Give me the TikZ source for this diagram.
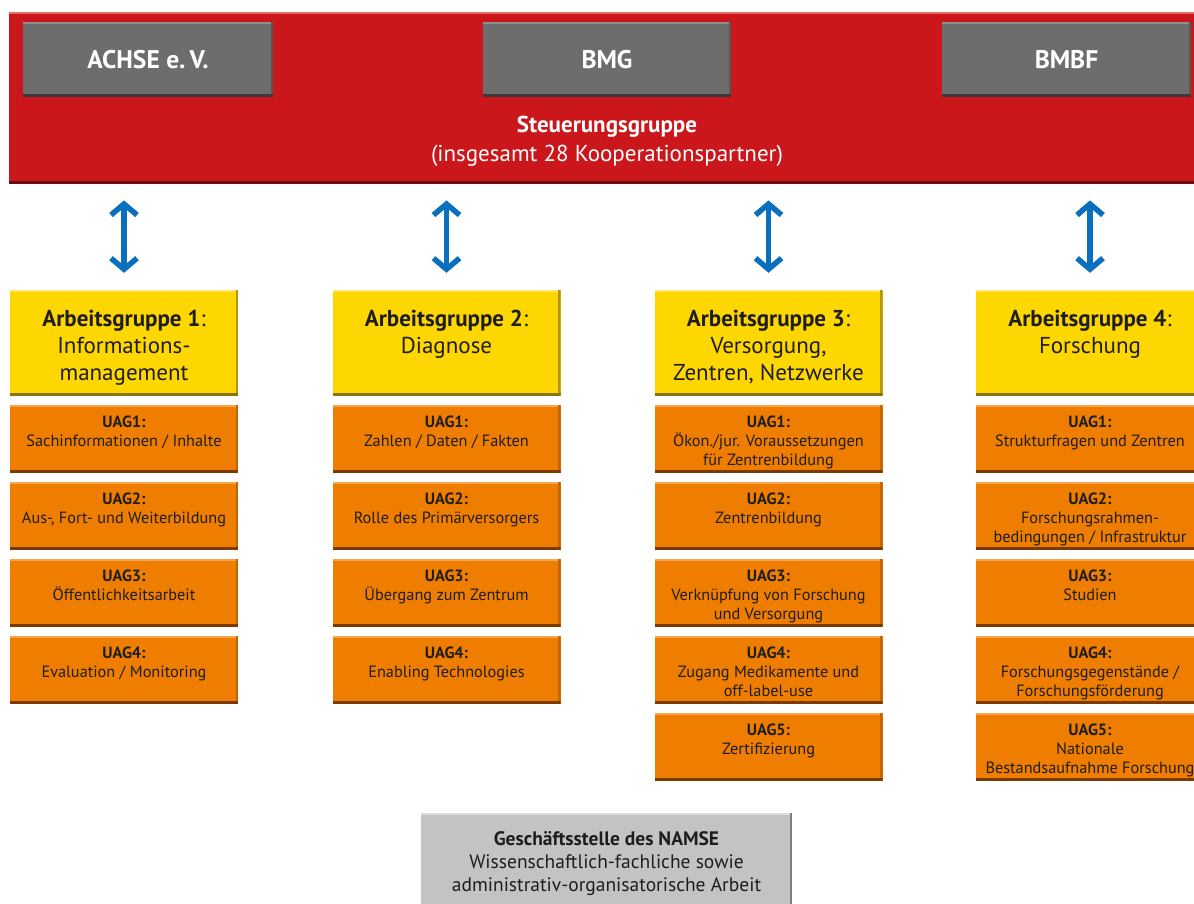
\documentclass[tikz,border=0pt]{standalone}
\usepackage{fontspec}
\setmainfont{PT Sans}
\usetikzlibrary{arrows.meta}
\definecolor{rd}{HTML}{CB171C}
\definecolor{rdtop}{HTML}{E36B6B}
\definecolor{rdbot}{HTML}{6B0B0B}
\definecolor{gr}{HTML}{6D6D6D}
\definecolor{grtop}{HTML}{8E8E8E}
\definecolor{grbot}{HTML}{3A3A3A}
\definecolor{grrt}{HTML}{555555}
\definecolor{yl}{HTML}{FFD700}
\definecolor{yltop}{HTML}{FFE566}
\definecolor{ylbot}{HTML}{8A7400}
\definecolor{ylrt}{HTML}{B39600}
\definecolor{og}{HTML}{EF7D00}
\definecolor{ogtop}{HTML}{F6A550}
\definecolor{ogbot}{HTML}{7A3A00}
\definecolor{ogrt}{HTML}{C46500}
\definecolor{lg}{HTML}{C3C3C3}
\definecolor{lgtop}{HTML}{DCDCDC}
\definecolor{lgrt}{HTML}{7C7C7C}
\definecolor{bl}{HTML}{0A70BD}
\definecolor{txt}{HTML}{1E1E1E}
\tikzset{
  bev/.style n args={3}{path picture={
    \fill[#1] (path picture bounding box.north west) rectangle ([yshift=-2pt]path picture bounding box.north east);
    \fill[#3] (path picture bounding box.north east) rectangle ([xshift=-2.5pt]path picture bounding box.south east);
    \fill[#2] (path picture bounding box.south west) rectangle ([yshift=3pt]path picture bounding box.south east);
  }},
  band/.style={inner sep=0pt, fill=rd, anchor=north west, minimum width=1195pt, minimum height=172pt, bev={rdtop}{rdbot}{rd}},
  gbox/.style={inner sep=0pt, fill=gr, minimum height=75pt, text=white, font=\fontsize{25.5}{30}\selectfont\bfseries, bev={grtop}{grbot}{grrt}},
  agbox/.style={inner sep=0pt, fill=yl, text=txt, bev={yltop}{ylbot}{ylrt}},
  uag/.style={inner sep=0pt, fill=og, text=txt, bev={ogtop}{ogbot}{ogrt}},
  gsbox/.style={inner sep=0pt, fill=lg, text=txt, bev={lgtop}{lg}{lgrt}},
  steertext/.style={text=white, align=center, font=\fontsize{23}{29}\selectfont},
  blarrow/.style={draw=bl, line width=5.5pt, {Straight Barb[length=11pt,width=26pt]}-{Straight Barb[length=11pt,width=26pt]}, shorten <=16pt, shorten >=17pt},
}
\newcommand\agnode[4]{\node[agbox] (#1) at (#2,#3) {\parbox[c][106pt][t]{228pt}{\centering\fontsize{23}{27}\selectfont\vspace*{20pt}#4}};}
\newcommand\uagnode[4]{\node[uag] (#1) at (#2,#3) {\parbox[c][68pt][t]{228pt}{\centering\fontsize{16.3}{19}\selectfont\vspace*{10.5pt}#4}};}
\begin{document}
\begin{tikzpicture}[x=1pt,y=-1pt]
\useasboundingbox (0,0) rectangle (1194,903);
\clip (0,0) rectangle (1194,903);
\fill[white] (0,0) rectangle (1194,903);

% steering group
\node[band] (steer) at (9,12) {};
\node[gbox, minimum width=250pt] (achse) at (148,59.5) {ACHSE e.\,V.};
\node[gbox, minimum width=248pt] (bmg) at (607,59.5) {BMG};
\node[gbox, minimum width=249pt] (bmbf) at (1066.5,59.5) {BMBF};
\node[steertext] (steertxt) at (607,141) {\textbf{Steuerungsgruppe}\\(insgesamt 28 Kooperationspartner)};

% working groups
\agnode{ag1}{124}{343}{\textbf{Arbeitsgruppe 1}:\\Informations-\\management}
\agnode{ag2}{446.5}{343}{\textbf{Arbeitsgruppe 2}:\\Diagnose}
\agnode{ag3}{768.5}{343}{\textbf{Arbeitsgruppe 3}:\\Versorgung,\\Zentren, Netzwerke}
\agnode{ag4}{1090}{343}{\textbf{Arbeitsgruppe 4}:\\Forschung}

% arrows
\draw[blarrow] (ag1.north |- steer.south) -- (ag1.north);
\draw[blarrow] (ag2.north |- steer.south) -- (ag2.north);
\draw[blarrow] (ag3.north |- steer.south) -- (ag3.north);
\draw[blarrow] (ag4.north |- steer.south) -- (ag4.north);

% AG1
\uagnode{a1u1}{124}{439}{\textbf{UAG1:}\\Sachinformationen / Inhalte}
\uagnode{a1u2}{124}{516}{\textbf{UAG2:}\\Aus-, Fort- und Weiterbildung}
\uagnode{a1u3}{124}{593}{\textbf{UAG3:}\\Öffentlichkeitsarbeit}
\uagnode{a1u4}{124}{670}{\textbf{UAG4:}\\Evaluation / Monitoring}
% AG2
\uagnode{a2u1}{446.5}{439}{\textbf{UAG1:}\\Zahlen / Daten / Fakten}
\uagnode{a2u2}{446.5}{516}{\textbf{UAG2:}\\Rolle des Primärversorgers}
\uagnode{a2u3}{446.5}{593}{\textbf{UAG3:}\\Übergang zum Zentrum}
\uagnode{a2u4}{446.5}{670}{\textbf{UAG4:}\\Enabling Technologies}
% AG3
\uagnode{a3u1}{768.5}{439}{\textbf{UAG1:}\\Ökon./jur. Voraussetzungen\\für Zentrenbildung}
\uagnode{a3u2}{768.5}{516}{\textbf{UAG2:}\\Zentrenbildung}
\uagnode{a3u3}{768.5}{593}{\textbf{UAG3:}\\Verknüpfung von Forschung\\und Versorgung}
\uagnode{a3u4}{768.5}{670}{\textbf{UAG4:}\\Zugang Medikamente und\\off-label-use}
\uagnode{a3u5}{768.5}{747}{\textbf{UAG5:}\\Zertifizierung}
% AG4
\uagnode{a4u1}{1090}{439}{\textbf{UAG1:}\\Strukturfragen und Zentren}
\uagnode{a4u2}{1090}{516}{\textbf{UAG2:}\\Forschungsrahmen-\\bedingungen / Infrastruktur}
\uagnode{a4u3}{1090}{593}{\textbf{UAG3:}\\Studien}
\uagnode{a4u4}{1090}{670}{\textbf{UAG4:}\\Forschungsgegenstände /\\Forschungsförderung}
\uagnode{a4u5}{1090}{747}{\textbf{UAG5:}\\Nationale\\Bestandsaufnahme Forschung}

% office
\node[gsbox] (office) at (606.5,863) {\parbox[c][100pt][t]{371pt}{\centering\fontsize{19.5}{23}\selectfont\vspace*{18.5pt}\textbf{Geschäftsstelle des NAMSE}\\Wissenschaftlich-fachliche sowie\\administrativ-organisatorische Arbeit}};
\end{tikzpicture}
\end{document}
